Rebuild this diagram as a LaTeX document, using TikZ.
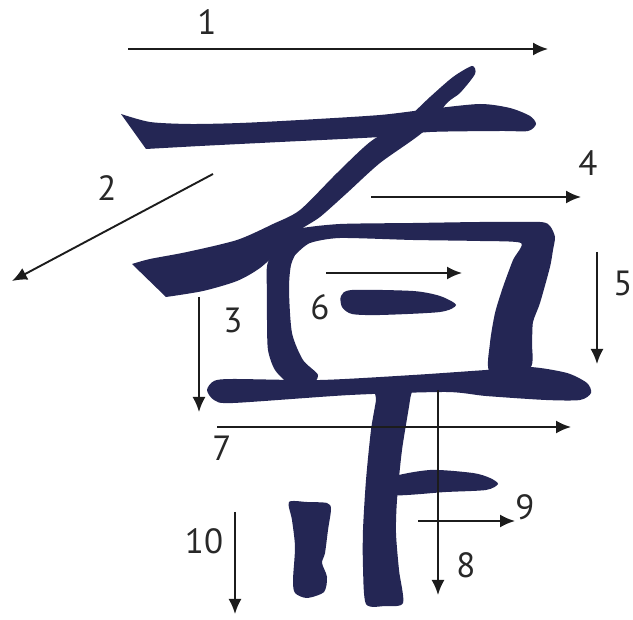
\documentclass[tikz,border=0pt]{standalone}
\usepackage{fontspec}
\setmainfont{PT Sans}
\usetikzlibrary{arrows.meta}
\definecolor{ink}{RGB}{36,38,84}
\definecolor{arrowc}{RGB}{28,28,28}
\definecolor{labc}{RGB}{40,40,40}
\begin{document}
\begin{tikzpicture}[x=1pt,y=-1pt,
  brush/.style={fill=ink,draw=none},
  arr/.style={draw=arrowc,line width=1.9pt,-{Latex[length=15pt,width=13pt]}},
  lab/.style={text=labc,font=\fontsize{35}{40}\selectfont,inner sep=0pt}]
\useasboundingbox (0,0) rectangle (633,620);
\fill[white] (0,0) rectangle (633,620);

% stroke 1: top horizontal (left end cut straight)
\fill[brush] plot[smooth,tension=0.45] coordinates {
 (121,114) (150,122) (190,124) (240,123) (300,120) (380,115) (430,109)
 (480,104) (510,108) (530,116) (536,124) (528,131) (500,131) (430,132)
 (380,137) (280,142) (200,146) (146,149)} -- cycle;
% stroke 2: slant with sweeping tail (tail end cut straight)
\fill[brush] plot[smooth,tension=0.45] coordinates {
 (166,297) (203,291) (237,281) (260,268) (282,248) (300,230) (320,217)
 (347,193) (380,163) (423,132) (447,103) (460,93) (475,74) (472,66)
 (453,77) (430,97) (405,120) (370,142) (337,173) (300,210)
 (273,224) (237,240) (187,252) (150,259) (132,264)} -- cycle;
% stroke 3: left side of the box
\fill[brush] plot[smooth cycle,tension=0.45] coordinates {
 (288,238) (300,234) (298,248) (291,265) (289,290) (292,333) (303,360)
 (318,375) (310,386) (290,384) (275,370) (268,350) (267,320) (267,293)
 (268,262)};
% stroke 4: box top and right side
\fill[brush] plot[smooth cycle,tension=0.4] coordinates {
 (298,229) (340,224) (413,223) (480,222) (540,222) (550,226) (555,237)
 (553,250) (550,267) (540,303) (533,322) (532,343) (530,368) (490,372)
 (490,343) (495,313) (503,287) (513,260) (521,243) (480,241) (413,240)
 (340,238) (310,243) (295,255) (290,262) (291,240)};
% stroke 6: inner short horizontal
\fill[brush] plot[smooth cycle,tension=0.45] coordinates {
 (341,296) (352,290) (413,291) (440,296) (456,305) (440,312) (380,315)
 (352,314) (342,307)};
% stroke 7: long lower horizontal
\fill[brush] plot[smooth cycle,tension=0.45] coordinates {
 (207,390) (214,381) (233,379) (320,380) (413,375) (486,370) (530,367)
 (567,373) (587,383) (591,393) (580,400) (546,400) (486,396) (446,392)
 (350,395) (233,403) (214,400)};
% stroke 8: long vertical
\fill[brush] plot[smooth cycle,tension=0.45] coordinates {
 (376,388) (410,388) (410,400) (402,450) (397,500) (396,533) (399,570)
 (403,603) (385,606) (366,604) (363,567) (363,530) (366,480) (371,430)
 (376,400)};
% stroke 9: short horizontal on the vertical
\fill[brush] plot[smooth cycle,tension=0.45] coordinates {
 (390,478) (430,470) (473,473) (490,478) (498,484) (486,490) (446,492)
 (390,495)};
% stroke 10: short vertical at the bottom left
\fill[brush] plot[smooth cycle,tension=0.45] coordinates {
 (289,502) (307,502) (327,503) (331,509) (328,530) (325,553) (322,563)
 (327,577) (324,592) (307,598) (295,593) (293,580) (295,547) (292,520)};

% arrow end points
\coordinate (a1s) at (128,49);  \coordinate (a1e) at (548,49);
\coordinate (a2s) at (213,174); \coordinate (a2e) at (12,281);
\coordinate (a3s) at (199,297); \coordinate (a3e) at (199,412);
\coordinate (a4s) at (371,197); \coordinate (a4e) at (581,197);
\coordinate (a5s) at (597,252); \coordinate (a5e) at (597,364);
\coordinate (a6s) at (326,273); \coordinate (a6e) at (462,273);
\coordinate (a7s) at (217,427); \coordinate (a7e) at (571,427);
\coordinate (a8s) at (438,390); \coordinate (a8e) at (438,595);
\coordinate (a9s) at (418,521); \coordinate (a9e) at (515,521);
\coordinate (a10s) at (235,512); \coordinate (a10e) at (235,614);

\draw[arr] (a1s) -- (a1e);
\draw[arr] (a2s) -- (a2e);
\draw[arr] (a3s) -- (a3e);
\draw[arr] (a4s) -- (a4e);
\draw[arr] (a5s) -- (a5e);
\draw[arr] (a6s) -- (a6e);
\draw[arr] (a7s) -- (a7e);
\draw[arr] (a8s) -- (a8e);
\draw[arr] (a9s) -- (a9e);
\draw[arr] (a10s) -- (a10e);

% labels
\node[lab] (l1) at (207,22) {1};
\node[lab] (l2) at (107,188) {2};
\node[lab] (l3) at (233,320) {3};
\node[lab] (l4) at (588,163) {4};
\node[lab] (l5) at (623,283) {5};
\node[lab] (l6) at (320,307) {6};
\node[lab] (l7) at (222,448) {7};
\node[lab] (l8) at (466,565) {8};
\node[lab] (l9) at (525,507) {9};
\node[lab] (l10) at (204,541) {10};
\end{tikzpicture}
\end{document}
